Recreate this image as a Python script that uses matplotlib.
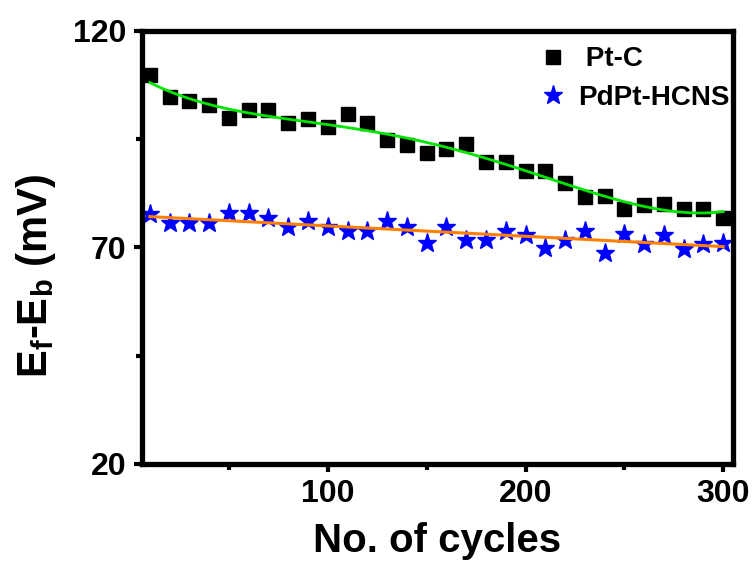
import matplotlib
matplotlib.use("Agg")
import matplotlib.pyplot as plt
import numpy as np

plt.rcParams['font.family'] = ['Liberation Sans', 'DejaVu Sans']
plt.rcParams['font.weight'] = 'bold'
plt.rcParams['mathtext.fontset'] = 'custom'
plt.rcParams['mathtext.rm'] = 'Liberation Sans:bold'
plt.rcParams['mathtext.it'] = 'Liberation Sans:bold'
plt.rcParams['mathtext.bf'] = 'Liberation Sans:bold'

# cycles and Ef-Eb values
cycles = np.arange(10, 301, 10)
pt_c = [109.8, 104.8, 103.8, 102.8, 99.8, 101.8, 101.8, 98.7, 99.7, 97.8,
        100.8, 98.7, 94.8, 93.7, 91.8, 92.7, 93.8, 89.8, 89.8, 87.7,
        87.7, 84.8, 81.7, 81.9, 78.8, 79.8, 80.0, 78.8, 78.8, 76.9]
pdpt = [77.7, 75.7, 75.7, 75.7, 77.9, 77.9, 76.7, 74.7, 76.0, 74.8,
        73.8, 73.8, 76.0, 74.8, 71.0, 74.8, 71.7, 71.7, 73.9, 72.9,
        69.8, 71.7, 73.9, 68.8, 73.0, 70.8, 72.9, 69.7, 70.8, 71.0]

fig = plt.figure(figsize=(7.55, 5.63), dpi=100)
ax = fig.add_axes([0.188, 0.176, 0.783, 0.769])

# fitted curves
xf = np.linspace(10, 300, 300)
green = np.polyval(np.polyfit(cycles, pt_c, 4), xf)
orange = np.polyval(np.polyfit(cycles, pdpt, 1), xf)
ax.plot(xf, green, color='#00e600', lw=2, zorder=3)
ax.plot(xf, orange, color='#ff8000', lw=2.2, zorder=3)

ax.plot(cycles, pt_c, 's', color='black', ms=9.5, ls='none', label=' Pt-C', zorder=2)
ax.plot(cycles, pdpt, '*', color='blue', ms=14, ls='none', label='PdPt-HCNS', zorder=2)

ax.set_xlim(6, 305)
ax.set_ylim(20, 120)
ax.set_xticks([100, 200, 300])
ax.set_xticks([50, 150, 250], minor=True)
ax.set_yticks([20, 70, 120])
ax.set_yticks([45, 95], minor=True)

for s in ax.spines.values():
    s.set_linewidth(3.8)

ax.tick_params(which='major', direction='out', length=6, width=3, labelsize=23, pad=5,
               top=False, right=True, labelright=False)
ax.tick_params(which='minor', direction='out', length=4, width=3, top=False, right=True)
# tiny ticks on the right spine
for t in ax.yaxis.get_ticklines(minor=False)[1::2] + ax.yaxis.get_ticklines(minor=True)[1::2]:
    t.set_markersize(2)
for t in ax.get_xticklabels() + ax.get_yticklabels():
    t.set_fontweight('bold')

ax.set_xlabel('No. of cycles', fontsize=29, fontweight='bold', labelpad=9)
ax.set_ylabel(r'E$_\mathregular{f}$-E$_\mathregular{b}$ (mV)', fontsize=30,
              fontweight='bold')
ax.yaxis.set_label_coords(-0.142, 0.434)

leg = ax.legend(loc='upper left', frameon=False, prop={'size': 20, 'weight': 'bold'},
                handletextpad=0.3, labelspacing=0.45, borderaxespad=0,
                handlelength=1.2, bbox_to_anchor=(0.648, 0.99))

fig.savefig('out.png', dpi=100)
